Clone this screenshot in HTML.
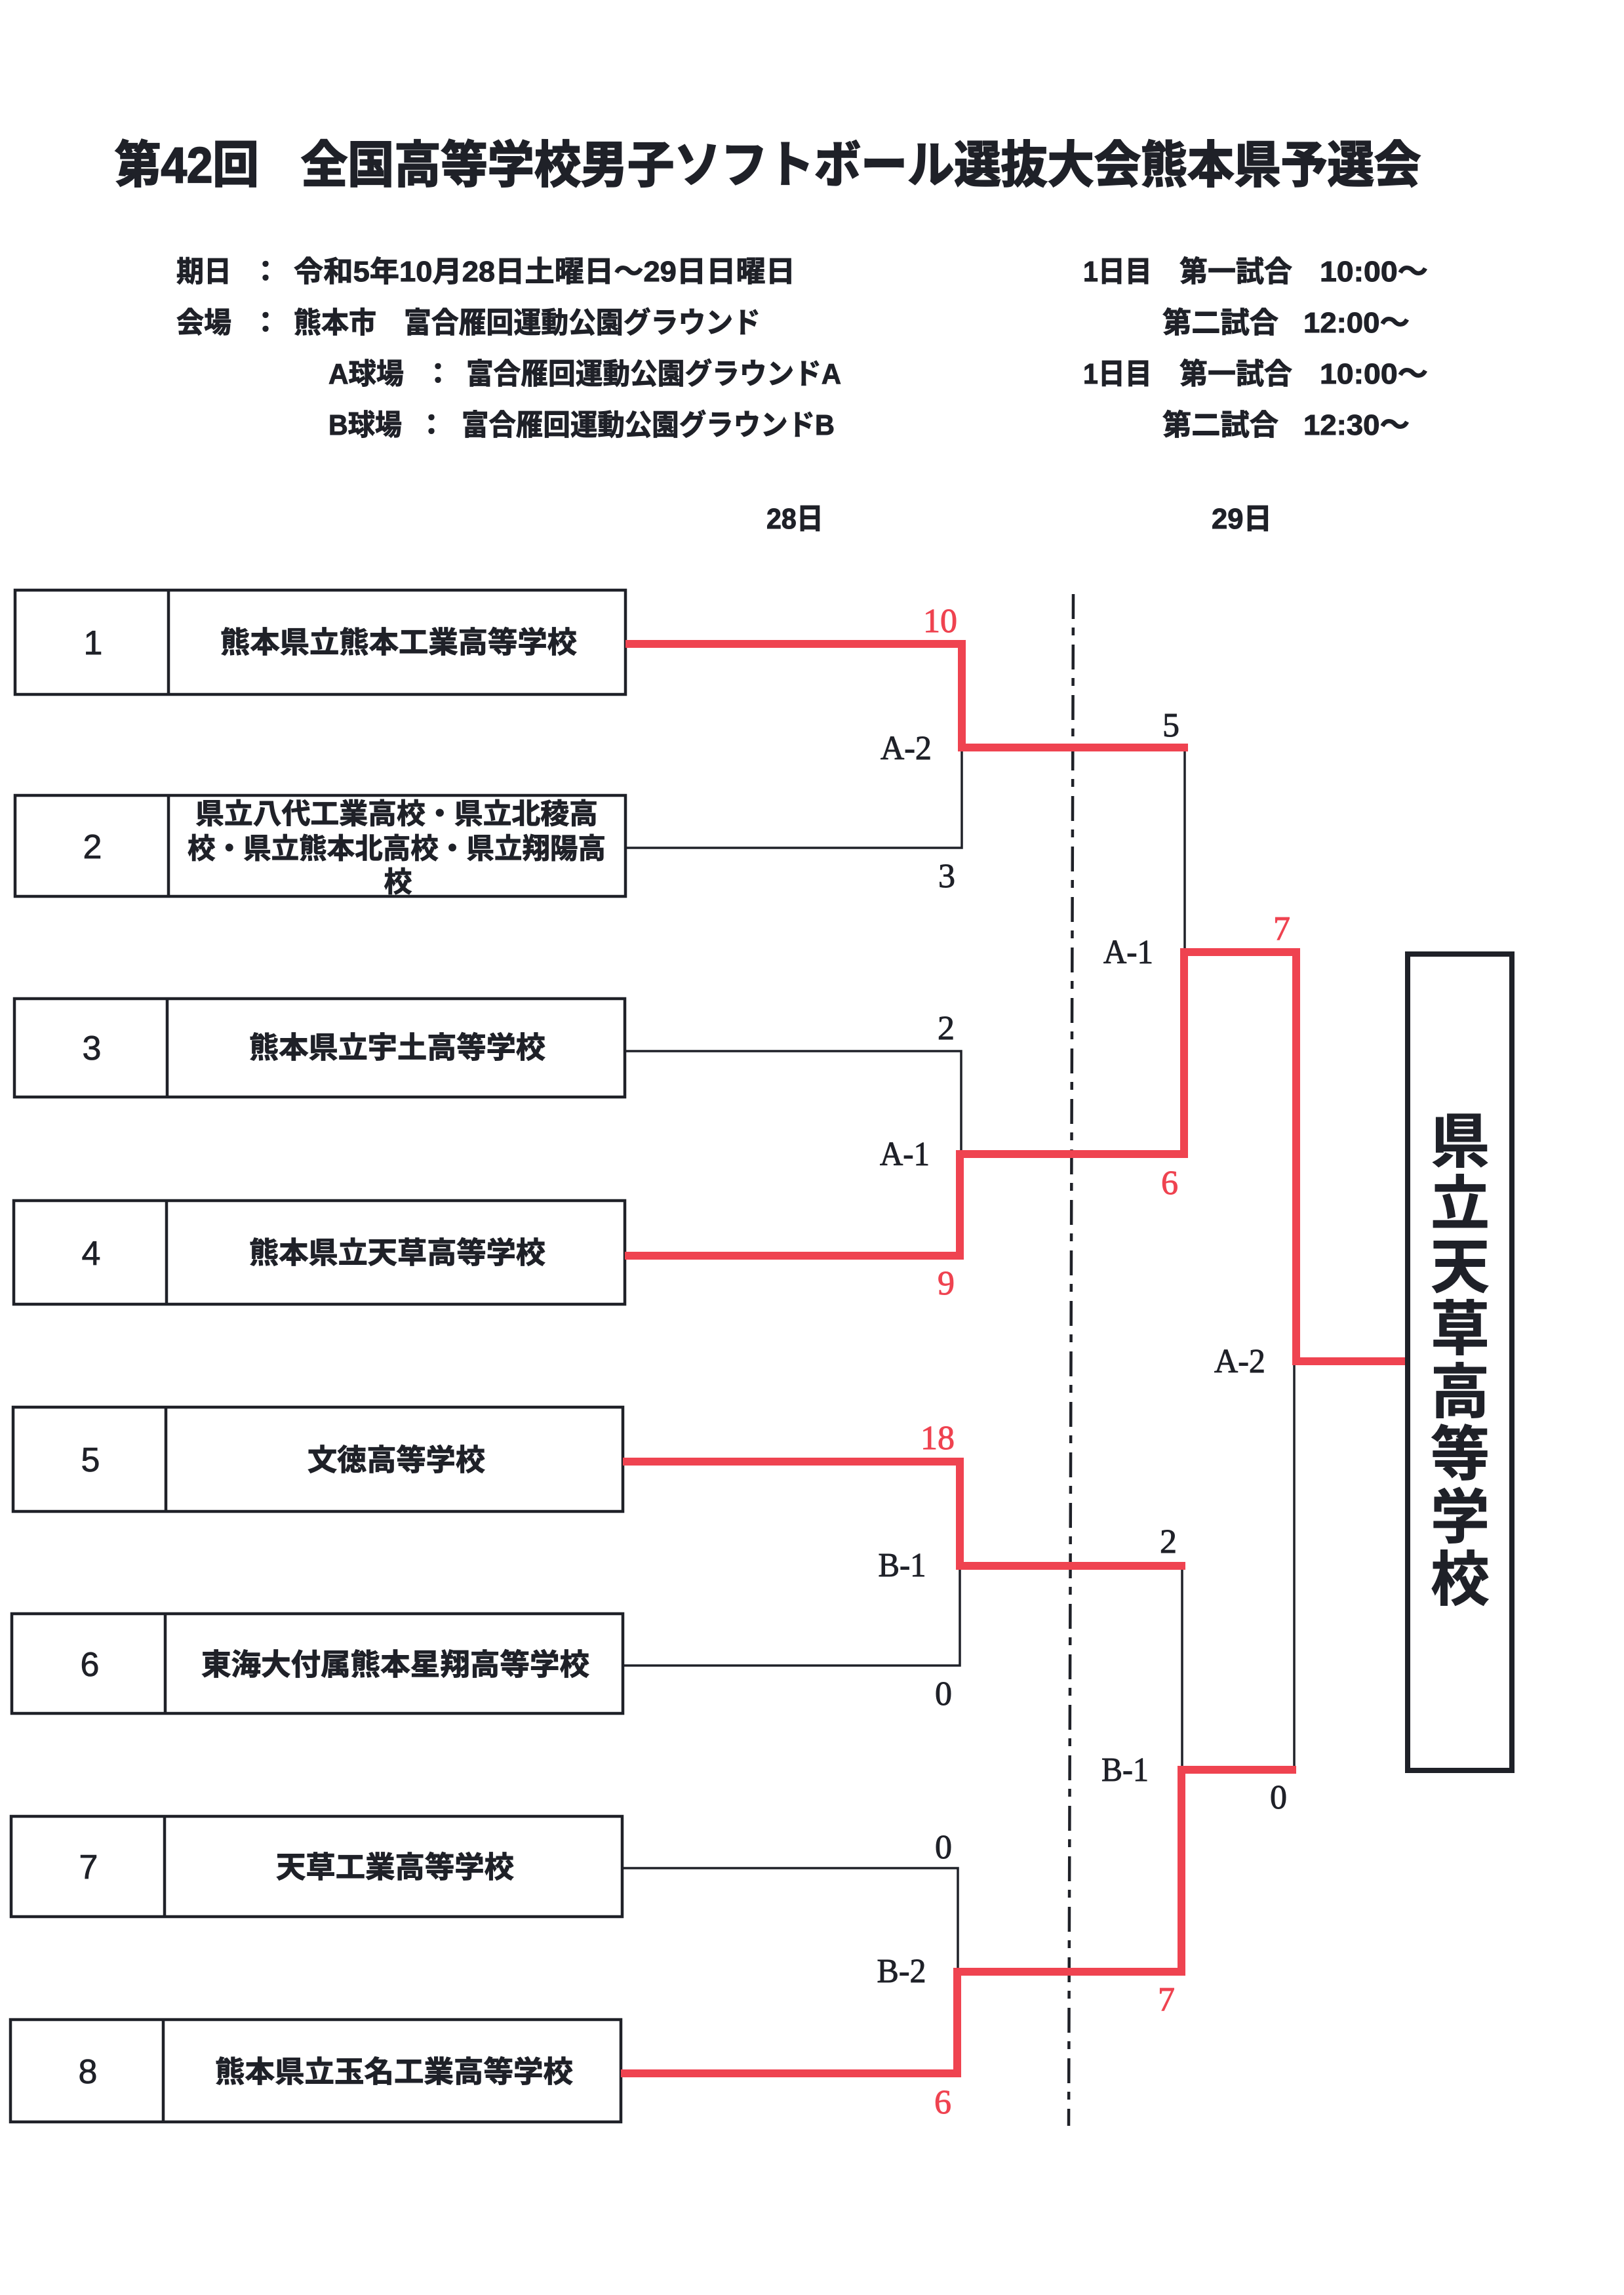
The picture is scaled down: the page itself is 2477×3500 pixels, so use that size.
<!DOCTYPE html>
<html lang="ja">
<head>
<meta charset="utf-8">
<style>
  html,body{margin:0;padding:0;background:#fff;}
  svg{display:block;}
  .jp{font-family:"Liberation Sans","Noto Sans CJK JP",sans-serif;font-weight:700;fill:#1f2128;stroke:#1f2128;stroke-width:1;}
  .ttl{stroke-width:2.2;}
  .num{font-family:"Liberation Sans","Noto Sans CJK JP",sans-serif;font-weight:400;fill:#1f2128;stroke:#1f2128;stroke-width:0.8;}
  .lab{font-family:"Liberation Serif","Noto Serif CJK SC",serif;font-weight:400;fill:#1f2128;stroke:#1f2128;stroke-width:1;}
  .lab .red{fill:#ef4350;stroke:#ef4350;}
</style>
</head>
<body>
<svg width="2477" height="3500" viewBox="0 0 2477 3500" xmlns="http://www.w3.org/2000/svg">
  <rect x="0" y="0" width="2477" height="3500" fill="#ffffff"/>

  <!-- Title -->
  <text class="jp ttl" x="175" y="278" font-size="76" textLength="220" lengthAdjust="spacingAndGlyphs">第42回</text>
  <text class="jp ttl" x="459" y="278" font-size="76" textLength="1708" lengthAdjust="spacingAndGlyphs">全国高等学校男子ソフトボール選抜大会熊本県予選会</text>

  <!-- Header left -->
  <text class="jp" x="269" y="429" font-size="44" textLength="84" lengthAdjust="spacingAndGlyphs">期日</text>
  <text class="jp" x="405" y="429" font-size="44" text-anchor="middle">：</text>
  <text class="jp" x="448" y="429" font-size="44" textLength="765" lengthAdjust="spacingAndGlyphs">令和5年10月28日土曜日～29日日曜日</text>

  <text class="jp" x="269" y="507" font-size="44" textLength="84" lengthAdjust="spacingAndGlyphs">会場</text>
  <text class="jp" x="405" y="507" font-size="44" text-anchor="middle">：</text>
  <text class="jp" x="448" y="507" font-size="44" textLength="126" lengthAdjust="spacingAndGlyphs">熊本市</text>
  <text class="jp" x="616" y="507" font-size="44" textLength="544" lengthAdjust="spacingAndGlyphs">富合雁回運動公園グラウンド</text>

  <text class="jp" x="501" y="585" font-size="44" textLength="115" lengthAdjust="spacingAndGlyphs">A球場</text>
  <text class="jp" x="668" y="585" font-size="44" text-anchor="middle">：</text>
  <text class="jp" x="711" y="585" font-size="44" textLength="572" lengthAdjust="spacingAndGlyphs">富合雁回運動公園グラウンドA</text>

  <text class="jp" x="501" y="663" font-size="44" textLength="112" lengthAdjust="spacingAndGlyphs">B球場</text>
  <text class="jp" x="658" y="663" font-size="44" text-anchor="middle">：</text>
  <text class="jp" x="704" y="663" font-size="44" textLength="569" lengthAdjust="spacingAndGlyphs">富合雁回運動公園グラウンドB</text>

  <!-- Header right -->
  <text class="jp" x="1652" y="429" font-size="44" textLength="105" lengthAdjust="spacingAndGlyphs">1日目</text>
  <text class="jp" x="1799" y="429" font-size="44" textLength="172" lengthAdjust="spacingAndGlyphs">第一試合</text>
  <text class="jp" x="2013" y="429" font-size="44" textLength="165" lengthAdjust="spacingAndGlyphs">10:00～</text>

  <text class="jp" x="1773" y="507" font-size="44" textLength="177" lengthAdjust="spacingAndGlyphs">第二試合</text>
  <text class="jp" x="1988" y="507" font-size="44" textLength="162" lengthAdjust="spacingAndGlyphs">12:00～</text>

  <text class="jp" x="1652" y="585" font-size="44" textLength="105" lengthAdjust="spacingAndGlyphs">1日目</text>
  <text class="jp" x="1799" y="585" font-size="44" textLength="172" lengthAdjust="spacingAndGlyphs">第一試合</text>
  <text class="jp" x="2013" y="585" font-size="44" textLength="165" lengthAdjust="spacingAndGlyphs">10:00～</text>

  <text class="jp" x="1773" y="663" font-size="44" textLength="177" lengthAdjust="spacingAndGlyphs">第二試合</text>
  <text class="jp" x="1988" y="663" font-size="44" textLength="162" lengthAdjust="spacingAndGlyphs">12:30～</text>

  <!-- Day headings -->
  <text class="jp" x="1169" y="806" font-size="44" textLength="87" lengthAdjust="spacingAndGlyphs">28日</text>
  <text class="jp" x="1848" y="806" font-size="44" textLength="92" lengthAdjust="spacingAndGlyphs">29日</text>

  <!-- Team boxes -->
  <g fill="none" stroke="#1f2128" stroke-width="4.5">
    <rect x="23" y="900" width="931" height="159"/><line x1="257" y1="900" x2="257" y2="1059"/>
    <rect x="23" y="1213" width="931" height="154"/><line x1="257" y1="1213" x2="257" y2="1367"/>
    <rect x="22" y="1523" width="931" height="150"/><line x1="255" y1="1523" x2="255" y2="1673"/>
    <rect x="21" y="1831" width="932" height="158"/><line x1="254" y1="1831" x2="254" y2="1989"/>
    <rect x="20" y="2146" width="930" height="159"/><line x1="253" y1="2146" x2="253" y2="2305"/>
    <rect x="18" y="2461" width="932" height="152"/><line x1="252" y1="2461" x2="252" y2="2613"/>
    <rect x="17" y="2770" width="932" height="153"/><line x1="251" y1="2770" x2="251" y2="2923"/>
    <rect x="16" y="3080" width="931" height="156"/><line x1="249" y1="3080" x2="249" y2="3236"/>
  </g>

  <!-- Seed numbers -->
  <g class="num" font-size="52" text-anchor="middle">
    <text x="142" y="998">1</text>
    <text x="141" y="1309">2</text>
    <text x="140" y="1616">3</text>
    <text x="139" y="1929">4</text>
    <text x="138" y="2244">5</text>
    <text x="137" y="2556">6</text>
    <text x="135" y="2865">7</text>
    <text x="134" y="3177">8</text>
  </g>

  <!-- School names -->
  <text class="jp" x="336" y="995" font-size="45" textLength="544" lengthAdjust="spacingAndGlyphs">熊本県立熊本工業高等学校</text>
  <text class="jp" x="298" y="1256" font-size="43" textLength="614" lengthAdjust="spacingAndGlyphs">県立八代工業高校・県立北稜高</text>
  <text class="jp" x="286" y="1309" font-size="43" textLength="638" lengthAdjust="spacingAndGlyphs">校・県立熊本北高校・県立翔陽高</text>
  <text class="jp" x="607" y="1360" font-size="43" text-anchor="middle">校</text>
  <text class="jp" x="380" y="1613" font-size="45" textLength="452" lengthAdjust="spacingAndGlyphs">熊本県立宇土高等学校</text>
  <text class="jp" x="380" y="1926" font-size="45" textLength="452" lengthAdjust="spacingAndGlyphs">熊本県立天草高等学校</text>
  <text class="jp" x="469" y="2242" font-size="45" textLength="271" lengthAdjust="spacingAndGlyphs">文徳高等学校</text>
  <text class="jp" x="307" y="2554" font-size="45" textLength="592" lengthAdjust="spacingAndGlyphs">東海大付属熊本星翔高等学校</text>
  <text class="jp" x="421" y="2863" font-size="45" textLength="363" lengthAdjust="spacingAndGlyphs">天草工業高等学校</text>
  <text class="jp" x="328" y="3175" font-size="45" textLength="546" lengthAdjust="spacingAndGlyphs">熊本県立玉名工業高等学校</text>

  <!-- Dash-dot day divider -->
  <line x1="1637" y1="906" x2="1630" y2="3242" stroke="#1f2128" stroke-width="4.5" stroke-dasharray="38 13 12 14"/>

  <!-- Black bracket lines -->
  <g fill="none" stroke="#1f2128" stroke-width="3.5" stroke-linejoin="miter">
    <polyline points="954,1293 1467,1293 1467,1140"/>
    <polyline points="953,1603 1466,1603 1466,1760"/>
    <polyline points="1807,1140 1807,1452"/>
    <polyline points="950,2540 1464,2540 1464,2388"/>
    <polyline points="949,2849 1461,2849 1461,3007"/>
    <polyline points="1803,2388 1803,2699"/>
    <polyline points="1974,2076 1974,2699"/>
  </g>

  <!-- Red winning paths -->
  <g fill="none" stroke="#ef4350" stroke-width="12" stroke-linejoin="miter" stroke-linecap="butt">
    <polyline points="954,982 1467,982 1467,1140 1812,1140"/>
    <polyline points="953,1915 1464,1915 1464,1760 1806,1760 1806,1452 1977,1452 1977,2076 2143,2076"/>
    <polyline points="950,2229 1464,2229 1464,2388 1808,2388"/>
    <polyline points="947,3162 1460,3162 1460,3007 1802,3007 1802,2699 1977,2699"/>
  </g>

  <!-- Winner box -->
  <rect x="2147" y="1455" width="159" height="1245" fill="none" stroke="#1f2128" stroke-width="8"/>
  <g class="jp" font-size="90" text-anchor="middle">
    <text x="2227" y="1772">県</text>
    <text x="2227" y="1867">立</text>
    <text x="2227" y="1963">天</text>
    <text x="2227" y="2058">草</text>
    <text x="2227" y="2154">高</text>
    <text x="2227" y="2249">等</text>
    <text x="2227" y="2345">学</text>
    <text x="2227" y="2440">校</text>
  </g>

  <!-- Score / match labels -->
  <g class="lab" font-size="52" text-anchor="middle">
    <text class="red" x="1434" y="964">10</text>
    <text x="1382" y="1158" textLength="78" lengthAdjust="spacingAndGlyphs">A-2</text>
    <text x="1444" y="1353">3</text>
    <text x="1786" y="1123">5</text>
    <text x="1721" y="1469" textLength="76" lengthAdjust="spacingAndGlyphs">A-1</text>
    <text class="red" x="1955" y="1433">7</text>
    <text x="1443" y="1585">2</text>
    <text x="1380" y="1777" textLength="76" lengthAdjust="spacingAndGlyphs">A-1</text>
    <text class="red" x="1784" y="1821">6</text>
    <text class="red" x="1443" y="1974">9</text>
    <text x="1891" y="2093" textLength="78" lengthAdjust="spacingAndGlyphs">A-2</text>
    <text class="red" x="1430" y="2210">18</text>
    <text x="1376" y="2404" textLength="73" lengthAdjust="spacingAndGlyphs">B-1</text>
    <text x="1439" y="2600">0</text>
    <text x="1782" y="2368">2</text>
    <text x="1716" y="2716" textLength="72" lengthAdjust="spacingAndGlyphs">B-1</text>
    <text x="1950" y="2758">0</text>
    <text x="1439" y="2834">0</text>
    <text x="1375" y="3023" textLength="75" lengthAdjust="spacingAndGlyphs">B-2</text>
    <text class="red" x="1779" y="3066">7</text>
    <text class="red" x="1438" y="3223">6</text>
  </g>
</svg>
</body>
</html>
